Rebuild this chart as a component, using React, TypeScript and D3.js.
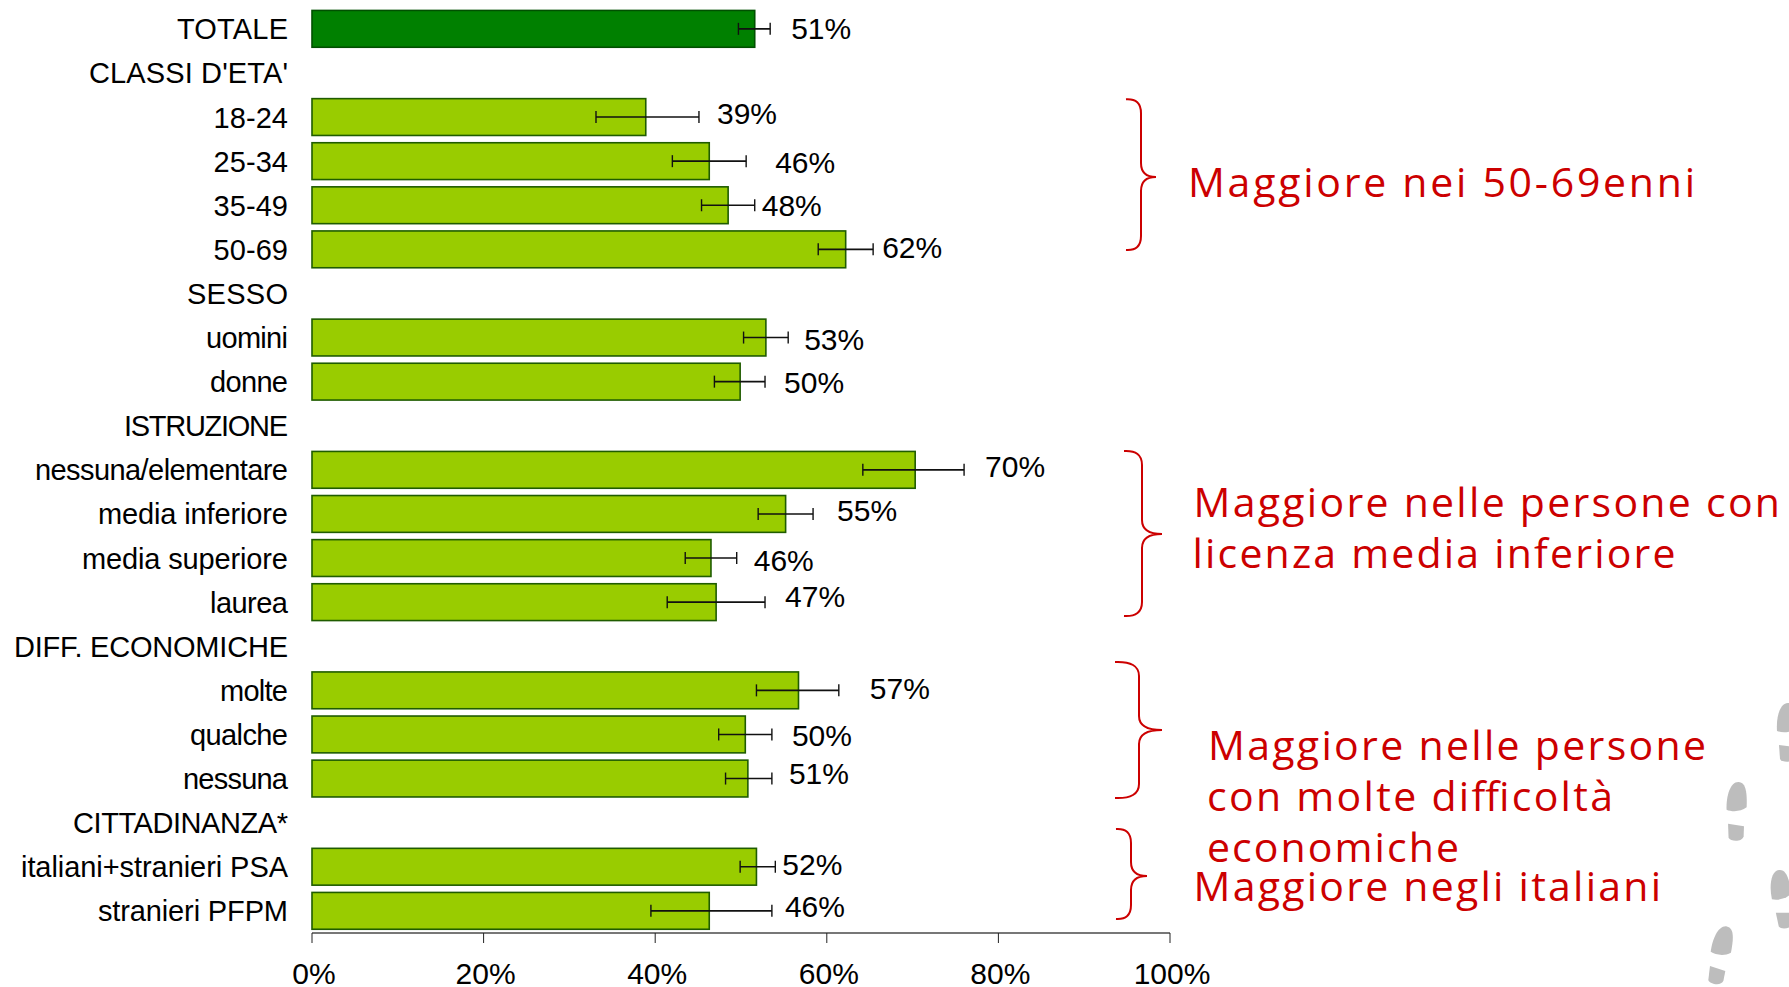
import React from "react";
import * as d3 from "d3";

// ---- data ----
const categories = ["TOTALE", "CLASSI D'ETA'", "18-24", "25-34", "35-49", "50-69", "SESSO", "uomini", "donne", "ISTRUZIONE", "nessuna/elementare", "media inferiore", "media superiore", "laurea", "DIFF. ECONOMICHE", "molte", "qualche", "nessuna", "CITTADINANZA*", "italiani+stranieri PSA", "stranieri PFPM"];
const values = [51.6, null, 38.9, 46.3, 48.5, 62.2, null, 52.9, 49.9, null, 70.3, 55.2, 46.5, 47.1, null, 56.7, 50.5, 50.8, null, 51.8, 46.3];
const errLow = [49.7, null, 33.1, 42.0, 45.4, 59.0, null, 50.3, 46.9, null, 64.2, 52.0, 43.5, 41.4, null, 51.8, 47.4, 48.2, null, 49.9, 39.5];
const errHigh = [53.4, null, 45.1, 50.6, 51.6, 65.4, null, 55.5, 52.8, null, 76.0, 58.4, 49.5, 52.8, null, 61.4, 53.6, 53.6, null, 54.0, 53.6];
const valueLabels = ["51%", "", "39%", "46%", "48%", "62%", "", "53%", "50%", "", "70%", "55%", "46%", "47%", "", "57%", "50%", "51%", "", "52%", "46%"];
const axisTicks = [0, 20, 40, 60, 80, 100];
const notes = ["Maggiore nei 50-69enni", "Maggiore nelle persone con", "licenza media inferiore", "Maggiore nelle persone", "con molte difficoltà", "economiche", "Maggiore negli italiani"];

// ---- layout (kept apart from the data) ----
const W = 1789, H = 987;
const categoryWidths = [111, 199, 74.5, 74.5, 74.5, 74.5, 101, 82, 78, 164, 253, 190, 206, 78, 274, 68, 98, 105, 215, 267, 190];
const labelDx = [21, 0, 18, 29, 7, 9, 0, 16, 19, 0, 21, 24, 17, 20, 0, 31, 20, 17, 0, 7, 13];
const labelDy = [0, 0, -3, 1.5, 1, -1, 0, 2.5, 1, 0, -3, -3, 3, -5, 0, -1.5, 1.5, -4.5, 0, -1.5, -4];
const noteBox = [
  [1188, 197, 507], [1193.5, 517.4, 586.5], [1192.5, 568.2, 483], [1208, 759.5, 498], [1207, 811, 406], [1207, 862, 252], [1193.5, 900.7, 467.5],
];
const braces = [
  [1126, 1141, 1156, 99.3, 177, 250],
  [1124, 1142, 1162, 451, 534, 616],
  [1115, 1139, 1162, 662, 730, 798],
  [1116, 1131, 1147, 829, 876, 919],
];
const feet = [
  [1787, 718, 0], [1737, 797, 2], [1780, 885, -8], [1723, 941, 11], [1771, 1005, 24],
];

const SOLE = "M-10,13 C-11,-1 -7,-15 1,-15 C9,-15 10,-3 10,10 C4,15 -5,15 -10,13 Z";
const HEEL = "M-8,27 L8,29 L8,39 C7,45 -5,45 -7,41 Z";
const RED = "#cc0000";
const SANS = "'Liberation Sans', Arial, sans-serif";

function bracePath([l, s, t, top, mid, bot]: number[]) {
  const p = d3.path();
  p.moveTo(l, top);
  p.quadraticCurveTo(s, top - 1, s, top + 14);
  p.lineTo(s, mid - 14);
  p.quadraticCurveTo(s, mid, t, mid);
  p.quadraticCurveTo(s, mid, s, mid + 14);
  p.lineTo(s, bot - 14);
  p.quadraticCurveTo(s, bot + 1, l, bot);
  return p.toString();
}

export default function App() {
  const x = d3.scaleLinear().domain([0, 100]).range([312, 1170]);
  const y = d3.scaleBand<number>().domain(d3.range(categories.length)).range([6.8, 932.9]).paddingInner(0.165).paddingOuter(0.0825);
  const bh = y.bandwidth();
  const axisY = 933;
  return (
    <svg width={W} height={H} viewBox={`0 0 ${W} ${H}`} style={{ position: "absolute", left: 0, top: 0, background: "#fff" }} fontFamily={SANS}>
      <g fill="#bdbdbd">
        {feet.map(([fx, fy, rot], i) => (
          <g key={i} transform={`translate(${fx},${fy}) rotate(${rot})`}>
            <path d={SOLE} />
            <path d={HEEL} />
          </g>
        ))}
      </g>
      {categories.map((c, i) => {
        const cy = y(i)! + bh / 2;
        const v = values[i];
        return (
          <g key={c + i}>
            <text x={288} y={cy + 10.5} fontSize={29} textAnchor="end" textLength={categoryWidths[i]} lengthAdjust="spacing" fill="#000">{c}</text>
            {v !== null && (
              <>
                <rect x={x(0)} y={y(i)} width={x(v) - x(0)} height={bh} fill={i === 0 ? "#008000" : "#99cc00"} stroke={i === 0 ? "#005000" : "#1f5c00"} strokeWidth={1.6} />
                <line x1={x(errLow[i]!)} x2={x(errHigh[i]!)} y1={cy} y2={cy} stroke="#111" strokeWidth={1.6} />
                <line x1={x(errLow[i]!)} x2={x(errLow[i]!)} y1={cy - 6} y2={cy + 6} stroke="#111" strokeWidth={1.4} />
                <line x1={x(errHigh[i]!)} x2={x(errHigh[i]!)} y1={cy - 6} y2={cy + 6} stroke="#111" strokeWidth={1.4} />
                <text x={x(errHigh[i]!) + labelDx[i]} y={cy + 10 + labelDy[i]} fontSize={30} fill="#000">{valueLabels[i]}</text>
              </>
            )}
          </g>
        );
      })}
      <line x1={x(0)} x2={x(100)} y1={axisY} y2={axisY} stroke="#777" strokeWidth={2} />
      {axisTicks.map((t) => (
        <g key={t}>
          <line x1={x(t)} x2={x(t)} y1={axisY} y2={axisY + 10} stroke="#222" strokeWidth={1} />
          <text x={x(t) + 2} y={984} fontSize={30} textAnchor="middle" fill="#000">{t}%</text>
        </g>
      ))}
      {braces.map((b, i) => (
        <path key={i} d={bracePath(b)} fill="none" stroke={RED} strokeWidth={2} />
      ))}
      {notes.map((n, i) => (
        <text key={i} x={noteBox[i][0]} y={noteBox[i][1]} textLength={noteBox[i][2]} lengthAdjust="spacing" fontSize={41} fontFamily="'Open Sans', sans-serif" fill={RED}>{n}</text>
      ))}
    </svg>
  );
}
